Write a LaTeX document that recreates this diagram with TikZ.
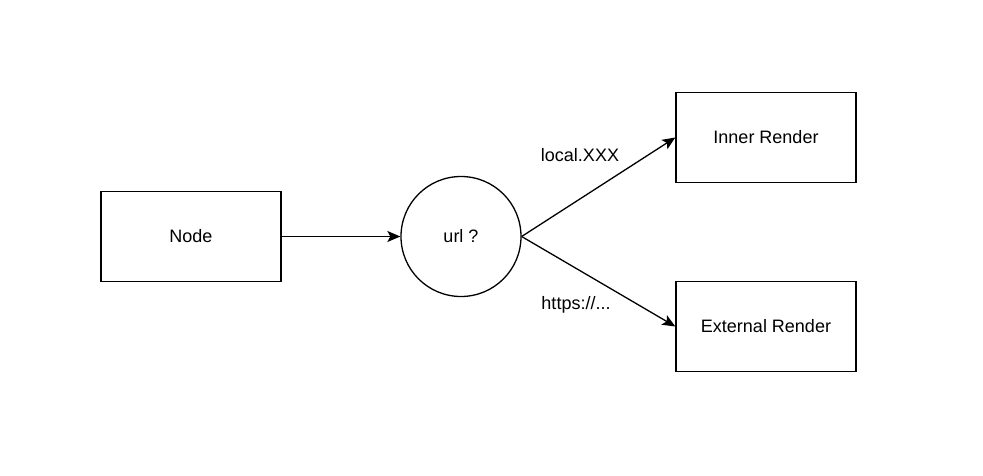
\documentclass[tikz,border=0pt]{standalone}
\usepackage{fontspec}
\setmainfont{Liberation Sans}
\usetikzlibrary{arrows.meta}
\begin{document}
\begin{tikzpicture}[x=1pt,y=-1pt,
  box/.style={draw,line width=1.3pt,minimum width=180pt,minimum height=90pt,inner sep=0pt,font=\fontsize{18}{21}\selectfont},
  decision/.style={draw,circle,line width=1.3pt,minimum size=120pt,inner sep=0pt,font=\fontsize{18}{21}\selectfont},
  conn/.style={line width=1.3pt,-{Stealth[length=13pt,width=11pt,inset=3pt]}},
  lbl/.style={font=\fontsize{18}{21}\selectfont,inner sep=0pt}]
\useasboundingbox (0,0) rectangle (983,476);
\fill[white] (0,0) rectangle (983,476);
\node[box] (node) at (191,236.5) {Node};
\node[decision] (url) at (461,236.5) {url ?};
\node[box] (inner) at (766,137.5) {Inner Render};
\node[box] (ext) at (766,326.5) {External Render};
\draw[conn] (node.east) -- (url.west);
\draw[conn] (url.east) -- (inner.west);
\draw[conn] (url.east) -- (ext.west);
\node[lbl] (l1) at (580,155) {local.XXX};
\node[lbl] (l2) at (576,305) {https://...};
\end{tikzpicture}
\end{document}
